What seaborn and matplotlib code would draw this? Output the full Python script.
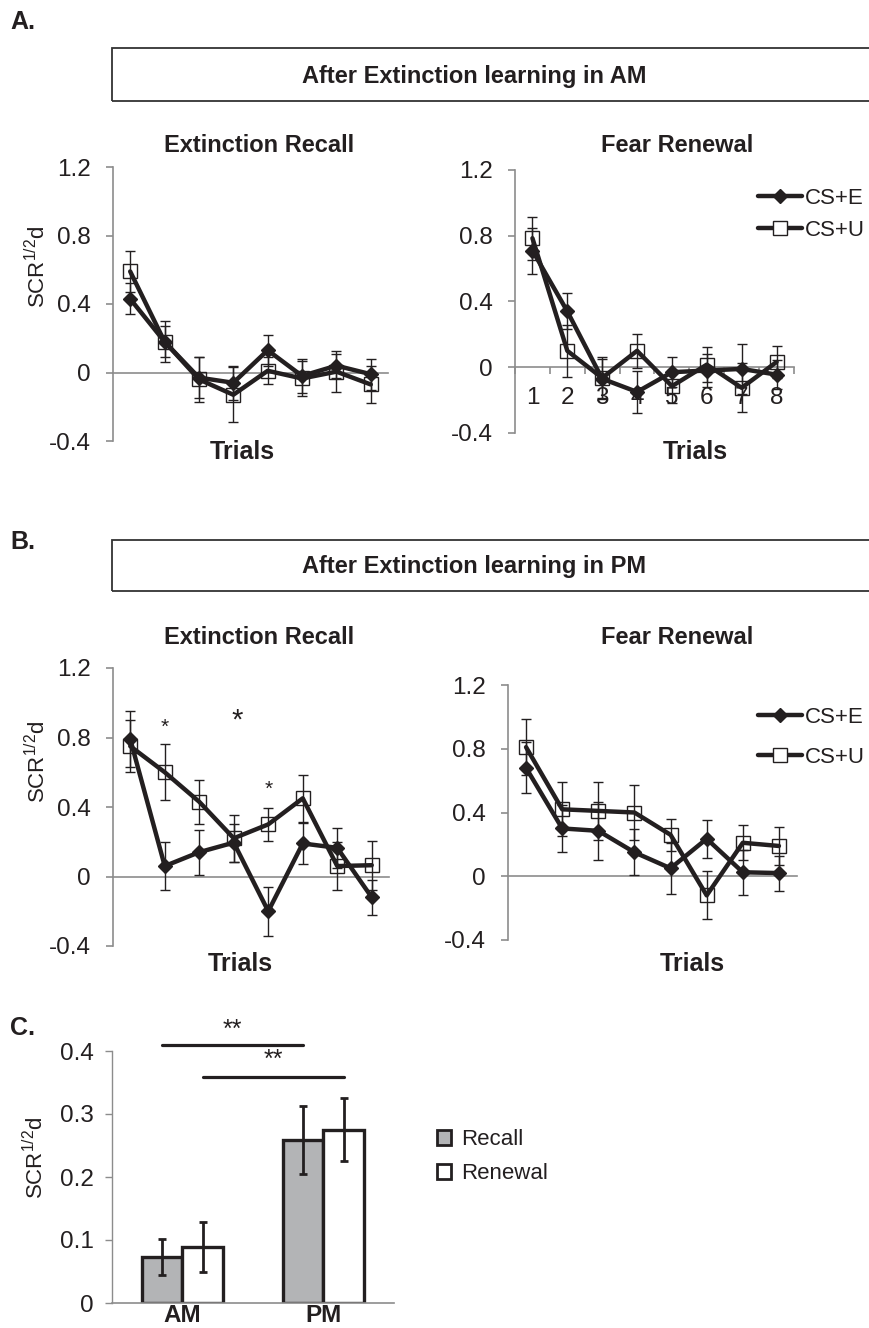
import numpy as np
import pandas as pd
import matplotlib
matplotlib.use("Agg")
import matplotlib.pyplot as plt
from matplotlib.lines import Line2D
from matplotlib.patches import Rectangle, Patch
import seaborn as sns

sns.set_style("white")
plt.rcParams['font.family'] = ['Liberation Sans', 'DejaVu Sans']
plt.rcParams['mathtext.fontset'] = 'custom'
plt.rcParams['mathtext.rm'] = 'Liberation Sans'
plt.rcParams['mathtext.it'] = 'Liberation Sans:italic'

# ---------------- data ----------------
trials = [1, 2, 3, 4, 5, 6, 7, 8]
series_names = ["CS+E", "CS+U"]

# Panel A (after extinction learning in AM)
a_recall_E = [0.43, 0.18, -0.03, -0.06, 0.13, -0.02, 0.04, -0.01]
a_recall_E_err = [0.09, 0.09, 0.12, 0.10, 0.09, 0.10, 0.07, 0.09]
a_recall_U = [0.59, 0.18, -0.04, -0.13, 0.01, -0.035, 0.005, -0.07]
a_recall_U_err = [0.12, 0.12, 0.13, 0.16, 0.08, 0.10, 0.12, 0.11]

a_renew_E = [0.71, 0.34, -0.07, -0.15, -0.03, -0.02, -0.01, -0.045]
a_renew_E_err = [0.14, 0.11, 0.12, 0.13, 0.09, 0.10, 0.15, 0.09]
a_renew_U = [0.785, 0.10, -0.065, 0.10, -0.115, 0.016, -0.125, 0.032]
a_renew_U_err = [0.13, 0.16, 0.13, 0.105, 0.10, 0.105, 0.15, 0.10]

# Panel B (after extinction learning in PM)
b_recall_E = [0.79, 0.06, 0.14, 0.195, -0.20, 0.19, 0.165, -0.12]
b_recall_E_err = [0.16, 0.14, 0.13, 0.11, 0.14, 0.12, 0.115, 0.10]
b_recall_U = [0.75, 0.60, 0.43, 0.22, 0.30, 0.45, 0.06, 0.065]
b_recall_U_err = [0.15, 0.16, 0.125, 0.135, 0.095, 0.135, 0.14, 0.14]

b_renew_E = [0.68, 0.30, 0.285, 0.15, 0.05, 0.235, 0.025, 0.02]
b_renew_E_err = [0.16, 0.15, 0.18, 0.145, 0.16, 0.12, 0.14, 0.11]
b_renew_U = [0.81, 0.42, 0.41, 0.40, 0.26, -0.12, 0.21, 0.19]
b_renew_U_err = [0.175, 0.17, 0.18, 0.175, 0.10, 0.15, 0.11, 0.12]

# significance asterisks in B recall (trial number, y, text)
b_star_trials = [2, 4.1, 5]
b_star_y = [0.86, 0.90, 0.50]
b_star_text = ["*", "*", "*"]

# Panel C
sessions = ["AM", "PM"]
phases = ["Recall", "Renewal"]
c_recall = [0.073, 0.258]
c_recall_err = [0.028, 0.054]
c_renew = [0.089, 0.275]
c_renew_err = [0.039, 0.050]

# ---------------- styling ----------------
W, H = 870, 1328
fig = plt.figure(figsize=(W / 100, H / 100), dpi=100)
INK = "#231f20"
GRAY = "#8c8c8c"
BARGRAY = "#b3b4b6"


def fx(px):
    return px / W


def fy(py):
    return 1 - py / H


def add_ax(l, r, t, b):
    return fig.add_axes([fx(l), fy(b), fx(r) - fx(l), fy(t) - fy(b)])


def ftext(x, y, s, **kw):
    fig.text(fx(x), fy(y), s, **kw)


def line_panel(ax, E, Eerr, U, Uerr, show_x=False):
    x = np.arange(len(trials))
    df = pd.DataFrame({"x": np.concatenate([x, x]),
                       "y": U + E,
                       "s": ["CS+U"] * len(U) + ["CS+E"] * len(E)})
    sns.lineplot(data=df[df.s == "CS+U"], x="x", y="y", ax=ax, color=INK,
                 lw=3.2, marker="s", markersize=10.5, markerfacecolor="none",
                 markeredgecolor=INK, markeredgewidth=1.0, errorbar=None,
                 zorder=3, legend=False)
    sns.lineplot(data=df[df.s == "CS+E"], x="x", y="y", ax=ax, color=INK,
                 lw=3.2, marker="D", markersize=7, markerfacecolor=INK,
                 markeredgecolor=INK, markeredgewidth=1.0, errorbar=None,
                 zorder=4, legend=False)
    ax.errorbar(x, U, yerr=Uerr, fmt="none", ecolor=INK, elinewidth=1.0,
                capsize=3.6, capthick=1.0, zorder=5)
    ax.errorbar(x, E, yerr=Eerr, fmt="none", ecolor=INK, elinewidth=1.0,
                capsize=3.6, capthick=1.0, zorder=5)
    ax.set_xlim(-0.5, len(trials) - 0.5)
    ax.set_ylim(-0.4, 1.2)
    ax.set_xlabel("")
    ax.set_ylabel("")
    for s in ["top", "right"]:
        ax.spines[s].set_visible(False)
    ax.spines["left"].set_color(GRAY)
    ax.spines["left"].set_linewidth(1.2)
    ax.spines["bottom"].set_position(("data", 0))
    ax.spines["bottom"].set_color(GRAY)
    ax.spines["bottom"].set_linewidth(1.2)
    ax.spines["bottom"].set_zorder(1)
    ax.set_yticks([-0.4, 0, 0.4, 0.8, 1.2])
    ax.set_yticklabels(["-0.4", "0", "0.4", "0.8", "1.2"])
    ax.tick_params(axis="y", length=5, width=1.2, color=GRAY, pad=11,
                   labelsize=17.5, labelcolor=INK, left=True)
    ax.set_xticks(x)
    if show_x:
        ax.set_xticklabels([str(t) for t in trials])
        ax.set_xticks(np.arange(-0.5, len(trials), 1), minor=True)
        ax.tick_params(axis="x", which="minor", length=5, width=1.2,
                       color=GRAY, direction="out", bottom=True)
        ax.tick_params(axis="x", which="major", length=0, pad=14,
                       labelsize=17.5, labelcolor=INK)
    else:
        ax.set_xticklabels([])
        ax.tick_params(axis="x", length=0)
    ax.set_facecolor("none")


legend_handles = [
    Line2D([0], [0], color=INK, lw=3.2, marker="D", markersize=7,
           markerfacecolor=INK, markeredgecolor=INK),
    Line2D([0], [0], color=INK, lw=3.2, marker="s", markersize=10.5,
           markerfacecolor="white", markeredgecolor=INK, markeredgewidth=1.0),
]

# ---------------- Panel A ----------------
ftext(10, 22, "A.", ha="left", va="center", fontsize=18, fontweight="bold", color=INK)
fig.patches.append(Rectangle((fx(112), fy(101)), fx(900) - fx(112), fy(48) - fy(101),
                             transform=fig.transFigure, fill=False, ec="#333333",
                             lw=1.3, clip_on=False))
ftext(474, 77, "After Extinction learning in AM", ha="center", va="center",
      fontsize=17, fontweight="bold", color=INK)

axA1 = add_ax(113, 388, 167, 441)
line_panel(axA1, a_recall_E, a_recall_E_err, a_recall_U, a_recall_U_err)
axA2 = add_ax(515, 794, 170, 433)
line_panel(axA2, a_renew_E, a_renew_E_err, a_renew_U, a_renew_U_err, show_x=True)

ftext(259, 145, "Extinction Recall", ha="center", va="center", fontsize=17,
      fontweight="bold", color=INK)
ftext(677, 146, "Fear Renewal", ha="center", va="center", fontsize=17,
      fontweight="bold", color=INK)
ftext(242, 452, "Trials", ha="center", va="center", fontsize=18,
      fontweight="bold", color=INK)
ftext(695, 452, "Trials", ha="center", va="center", fontsize=18,
      fontweight="bold", color=INK)
ftext(38, 267, r"SCR$^{\mathrm{1/2}}$d", ha="center", va="center", rotation=90,
      fontsize=16, color=INK)
fig.legend(legend_handles, series_names, loc="upper left",
           bbox_to_anchor=(fx(758), fy(188)), bbox_transform=fig.transFigure,
           frameon=False, fontsize=16, handlelength=2.0, handletextpad=0.1,
           borderpad=0, borderaxespad=0, labelspacing=0.5, labelcolor=INK)

# ---------------- Panel B ----------------
ftext(10, 542, "B.", ha="left", va="center", fontsize=18, fontweight="bold", color=INK)
fig.patches.append(Rectangle((fx(112), fy(591)), fx(900) - fx(112), fy(540) - fy(591),
                             transform=fig.transFigure, fill=False, ec="#333333",
                             lw=1.3, clip_on=False))
ftext(474, 566, "After Extinction learning in PM", ha="center", va="center",
      fontsize=17, fontweight="bold", color=INK)

axB1 = add_ax(113, 389, 668, 946)
line_panel(axB1, b_recall_E, b_recall_E_err, b_recall_U, b_recall_U_err)
axB2 = add_ax(508, 797, 685, 940)
line_panel(axB2, b_renew_E, b_renew_E_err, b_renew_U, b_renew_U_err)

for t, yv, s, fs in zip(b_star_trials, b_star_y, b_star_text, [15, 21, 15]):
    axB1.text(t - 1, yv, s, ha="center", va="center", fontsize=fs, color=INK)

ftext(259, 638, "Extinction Recall", ha="center", va="center", fontsize=17,
      fontweight="bold", color=INK)
ftext(677, 638, "Fear Renewal", ha="center", va="center", fontsize=17,
      fontweight="bold", color=INK)
ftext(240, 964, "Trials", ha="center", va="center", fontsize=18,
      fontweight="bold", color=INK)
ftext(692, 964, "Trials", ha="center", va="center", fontsize=18,
      fontweight="bold", color=INK)
ftext(38, 762, r"SCR$^{\mathrm{1/2}}$d", ha="center", va="center", rotation=90,
      fontsize=16, color=INK)
fig.legend(legend_handles, series_names, loc="upper left",
           bbox_to_anchor=(fx(758), fy(707)), bbox_transform=fig.transFigure,
           frameon=False, fontsize=16, handlelength=2.0, handletextpad=0.1,
           borderpad=0, borderaxespad=0, labelspacing=0.85, labelcolor=INK)

# ---------------- Panel C ----------------
ftext(10, 1028, "C.", ha="left", va="center", fontsize=18, fontweight="bold", color=INK)
axC = add_ax(112, 394, 1051, 1303)
dfc = pd.DataFrame({"session": sessions * 2,
                    "phase": [phases[0]] * 2 + [phases[1]] * 2,
                    "value": c_recall + c_renew})
sns.barplot(data=dfc, x="session", y="value", hue="phase", order=sessions,
            hue_order=phases, palette=[BARGRAY, "white"], edgecolor=INK,
            linewidth=2.4, width=0.58, errorbar=None, ax=axC, legend=False,
            zorder=2)
errs = [c_recall_err, c_renew_err]
vals = [c_recall, c_renew]
bar_containers = list(axC.containers)
centers = {}
for ci, cont in enumerate(bar_containers):
    xs = [b.get_x() + b.get_width() / 2 for b in cont]
    centers[ci] = xs
for ci in range(len(bar_containers)):
    axC.errorbar(centers[ci], vals[ci], yerr=errs[ci], fmt="none", ecolor=INK,
                 elinewidth=2.0, capsize=3.2, capthick=2.0, zorder=4)
axC.set_xlim(-0.5, 1.5)
axC.set_ylim(0, 0.4)
axC.set_xlabel("")
axC.set_ylabel("")
for s in ["top", "right"]:
    axC.spines[s].set_visible(False)
axC.spines["left"].set_color(GRAY)
axC.spines["left"].set_linewidth(1.0)
axC.spines["bottom"].set_color(GRAY)
axC.spines["bottom"].set_linewidth(1.2)
axC.set_yticks([0, 0.1, 0.2, 0.3, 0.4])
axC.set_yticklabels(["0", "0.1", "0.2", "0.3", "0.4"])
axC.tick_params(axis="y", length=5, width=1.0, color=GRAY, pad=8,
                labelsize=17.5, labelcolor=INK, left=True)
axC.tick_params(axis="x", length=0, pad=1, labelsize=17.5, labelcolor=INK)
for lab in axC.get_xticklabels():
    lab.set_fontweight("bold")

# significance bars (recall AM vs PM, renewal AM vs PM)
sig_y = [0.41, 0.359]
sig_text_y = [0.433, 0.386]
for ci in range(2):
    x0, x1 = centers[ci]
    axC.plot([x0, x1], [sig_y[ci], sig_y[ci]], color=INK, lw=2.3,
             clip_on=False, zorder=5)
    axC.text((x0 + x1) / 2, sig_text_y[ci], "**", ha="center", va="center",
             fontsize=18, color=INK, clip_on=False)

ftext(36, 1158, r"SCR$^{\mathrm{1/2}}$d", ha="center", va="center", rotation=90,
      fontsize=16, color=INK)
c_handles = [Patch(facecolor=BARGRAY, edgecolor=INK, lw=2.0),
             Patch(facecolor="white", edgecolor=INK, lw=2.0)]
fig.legend(c_handles, phases, loc="upper left",
           bbox_to_anchor=(fx(437), fy(1129)), bbox_transform=fig.transFigure,
           frameon=False, fontsize=16, handlelength=0.65, handleheight=0.65,
           handletextpad=0.45, borderpad=0, borderaxespad=0, labelspacing=0.6,
           labelcolor=INK)

fig.savefig("out.png", dpi=100)
